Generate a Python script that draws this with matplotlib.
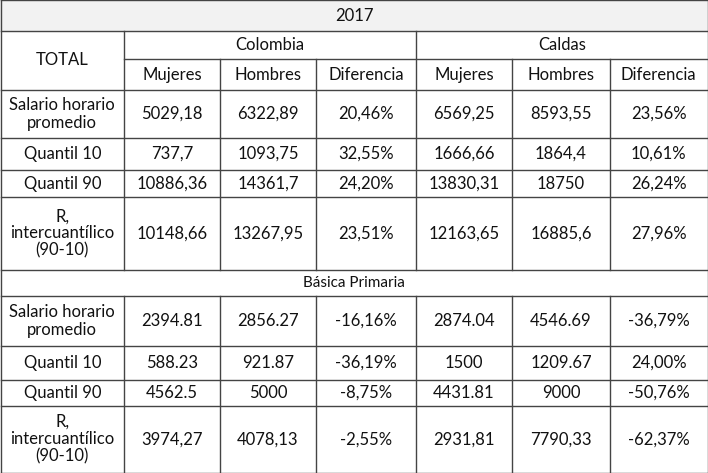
import matplotlib
matplotlib.use("Agg")
import matplotlib.pyplot as plt

year = "2017"
regions = ["Colombia", "Caldas"]
subcols = ["Mujeres", "Hombres", "Diferencia"]
section2 = "Básica Primaria"
row_labels = ["Salario horario\npromedio", "Quantil 10", "Quantil 90", "R,\nintercuantílico\n(90-10)"]
total_vals = [
    ["5029,18", "6322,89", "20,46%", "6569,25", "8593,55", "23,56%"],
    ["737,7", "1093,75", "32,55%", "1666,66", "1864,4", "10,61%"],
    ["10886,36", "14361,7", "24,20%", "13830,31", "18750", "26,24%"],
    ["10148,66", "13267,95", "23,51%", "12163,65", "16885,6", "27,96%"],
]
primaria_vals = [
    ["2394.81", "2856.27", "-16,16%", "2874.04", "4546.69", "-36,79%"],
    ["588.23", "921.87", "-36,19%", "1500", "1209.67", "24,00%"],
    ["4562.5", "5000", "-8,75%", "4431.81", "9000", "-50,76%"],
    ["3974,27", "4078,13", "-2,55%", "2931,81", "7790,33", "-62,37%"],
]

W, H = 708, 473
fig = plt.figure(figsize=(W/100, H/100), dpi=100)
ax = fig.add_axes([0, 0, 1, 1])
ax.set_xlim(0, W); ax.set_ylim(H, 0); ax.axis("off")
plt.rcParams['font.family'] = ['Lato', 'DejaVu Sans']
fs = 12
lc = "#444444"

xs = [0.5, 124, 220, 316, 416, 512, 610, 707.5]
y_tot = [90, 138, 170, 197, 270]
y_pri = [296, 346, 380, 406, 472.5]

def hl(y, x0=xs[0], x1=xs[-1]):
    ax.plot([x0, x1], [y, y], color=lc, lw=1)
def vl(x, y0, y1):
    ax.plot([x, x], [y0, y1], color=lc, lw=1)
def txt(x, y, s, size=fs):
    ax.text(x, y, s, ha="center", va="center", fontsize=size, color="#111111", linespacing=1.1)

ax.add_patch(plt.Rectangle((0, 0), W, 31, color="#f2f2f2", zorder=0))
txt(W/2, 16, year)
for y in [0.5, 31, 90, 270, 296, 472.5]:
    hl(y)
hl(59, xs[1], xs[-1])
vl(xs[0], 0, H); vl(xs[-1], 0, H)
vl(xs[1], 31, 270); vl(xs[4], 31, 270)
for x in xs[2:4] + xs[5:7]:
    vl(x, 59, 270)
vl(xs[1], 296, H); vl(xs[4], 296, H)
for x in xs[2:4] + xs[5:7]:
    vl(x, 296, H)

txt((xs[0]+xs[1])/2, 60, "TOTAL")
txt((xs[1]+xs[4])/2, 45, regions[0])
txt((xs[4]+xs[7])/2, 45, regions[1])
for i in range(6):
    txt((xs[i+1]+xs[i+2])/2, 75, subcols[i % 3])

def block(ys, vals):
    for r in range(len(row_labels)):
        yc = (ys[r]+ys[r+1])/2
        if r > 0:
            hl(ys[r])
        txt((xs[0]+xs[1])/2, yc, row_labels[r])
        for c in range(6):
            txt((xs[c+1]+xs[c+2])/2, yc, vals[r][c])

block(y_tot, total_vals)
txt(W/2, 283, section2, size=11)
block(y_pri, primaria_vals)

fig.savefig("out.png", dpi=100)
